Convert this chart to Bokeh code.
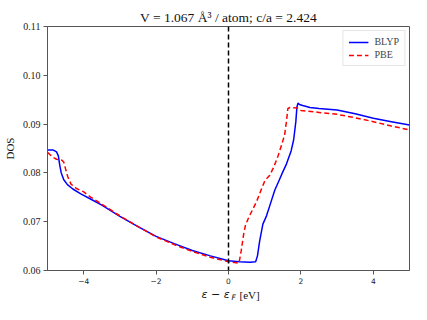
from bokeh.plotting import figure
from bokeh.models import Range1d, FixedTicker, Span, Label, Legend, LegendItem
from bokeh.layouts import column
from bokeh.embed import file_html
from bokeh.resources import INLINE

# ---- data ----
blyp_e = [-5.0, -4.85, -4.75, -4.70, -4.66, -4.62, -4.55, -4.45, -4.3, -4.08, -3.8, -3.5,
          -3.0, -2.5, -2.0, -1.5, -1.0, -0.5, 0.0, 0.3, 0.6, 0.75, 0.80, 0.86, 0.95, 1.05,
          1.15, 1.28, 1.40, 1.50, 1.60, 1.73, 1.80, 1.86, 1.89, 1.92, 1.96, 2.05, 2.25,
          2.5, 3.0, 3.5, 4.0, 4.5, 5.0]
blyp_dos = [0.0847, 0.0847, 0.0843, 0.0835, 0.0815, 0.0800, 0.0786, 0.0776, 0.0767, 0.0757,
            0.0746, 0.0734, 0.0711, 0.0690, 0.0670, 0.0655, 0.0641, 0.0630, 0.0620, 0.0618,
            0.0617, 0.0618, 0.0630, 0.0660, 0.0695, 0.0712, 0.0735, 0.0765, 0.0785, 0.0802,
            0.0818, 0.0845, 0.0868, 0.0905, 0.0935, 0.0943, 0.0940, 0.0938, 0.0934, 0.0932,
            0.0929, 0.0921, 0.0912, 0.0905, 0.0898]

pbe_e = [-5.0, -4.85, -4.75, -4.6, -4.55, -4.50, -4.44, -4.35, -4.2, -4.0, -3.8, -3.5,
         -3.0, -2.5, -2.0, -1.5, -1.0, -0.5, 0.0, 0.29, 0.35, 0.42, 0.47, 0.56, 0.7, 0.78,
         0.9, 1.01, 1.14, 1.25, 1.37, 1.47, 1.55, 1.60, 1.64, 1.70, 1.9, 2.0, 2.5, 3.0,
         3.5, 4.0, 4.5, 5.0]
pbe_dos = [0.0842, 0.0832, 0.0828, 0.0826, 0.0822, 0.0808, 0.0792, 0.0777, 0.0768, 0.0761,
           0.0750, 0.0736, 0.0712, 0.0690, 0.0669, 0.0653, 0.0639, 0.0627, 0.0618, 0.0615,
           0.0640, 0.0675, 0.0693, 0.0709, 0.0730, 0.0742, 0.0765, 0.0785, 0.0795, 0.0812,
           0.0835, 0.0858, 0.0878, 0.0905, 0.0932, 0.0934, 0.0933, 0.0928, 0.0924, 0.0920,
           0.0913, 0.0905, 0.0896, 0.0888]

x_ticks = [-4, -2, 0, 2, 4]
x_tick_labels = ["\u22124", "\u22122", "0", "2", "4"]
y_ticks = [0.06, 0.07, 0.08, 0.09, 0.10, 0.11]
y_tick_labels = ["0.06", "0.07", "0.08", "0.09", "0.10", "0.11"]

title_text = "V = 1.067 \u00c5\u00b3 / atom; c/a = 2.424"
serif = "Liberation Serif"

W = 411
p = figure(width=W, height=286, output_backend="svg", toolbar_location=None,
           x_range=Range1d(-5, 5), y_range=Range1d(0.06, 0.11),
           min_border_left=45, min_border_right=2, min_border_top=26, min_border_bottom=16)
p.grid.visible = False
p.background_fill_color = "white"
p.border_fill_color = "white"
p.outline_line_color = "#555555"
p.outline_line_width = 1

p.title.text = title_text
p.title.align = "center"
p.title.text_font = serif
p.title.text_font_size = "13.5px"
p.title.text_font_style = "normal"
p.title.text_color = "#111111"
p.title.standoff = 4
p.title.offset = 0

for ax in (p.xaxis[0], p.yaxis[0]):
    ax.axis_line_color = "#555555"
    ax.major_tick_line_color = "#555555"
    ax.major_tick_out = 4
    ax.major_tick_in = 0
    ax.minor_tick_line_color = None

p.xaxis.axis_label = None
p.xaxis.ticker = FixedTicker(ticks=x_ticks)
p.xaxis.major_label_overrides = dict(zip(x_ticks, x_tick_labels))
p.xaxis.major_label_text_font = "DejaVu Sans"
p.xaxis.major_label_text_font_size = "7.5px"
p.xaxis.major_label_standoff = 3
p.xaxis.major_label_text_color = "#222222"

p.yaxis.axis_label = "DOS"
p.yaxis.axis_label_text_font = serif
p.yaxis.axis_label_text_font_size = "11px"
p.yaxis.axis_label_text_font_style = "normal"
p.yaxis.axis_label_text_color = "#111111"
p.yaxis.axis_label_standoff = 4
p.yaxis.ticker = FixedTicker(ticks=y_ticks)
p.yaxis.major_label_overrides = dict(zip(y_ticks, y_tick_labels))
p.yaxis.major_label_text_font = serif
p.yaxis.major_label_text_font_size = "10px"
p.yaxis.major_label_standoff = 3
p.yaxis.major_label_text_color = "#222222"

p.add_layout(Span(location=0, dimension="height", line_color="black",
                  line_dash="5 3", line_width=1.5))

r1 = p.line(blyp_e, blyp_dos, line_color="#0000ff", line_width=1.5)
r2 = p.line(pbe_e, pbe_dos, line_color="#ff0000", line_width=1.5, line_dash="5 3")

legend = Legend(items=[LegendItem(label="BLYP", renderers=[r1]),
                       LegendItem(label="PBE", renderers=[r2])],
                location="top_right")
legend.label_text_font = serif
legend.label_text_font_size = "10px"
legend.glyph_width = 20
legend.glyph_height = 10
legend.label_height = 10
legend.spacing = 2
legend.padding = 5
legend.margin = 4
legend.label_standoff = 6
legend.border_line_color = "#cccccc"
legend.background_fill_alpha = 0.8
p.add_layout(legend)

# strip below the plot that carries the x-axis label (with subscript F)
q = figure(width=W, height=18, output_backend="svg", toolbar_location=None,
           x_range=p.x_range, y_range=Range1d(0, 1), x_axis_type=None, y_axis_type=None,
           min_border_left=45, min_border_right=2, min_border_top=0, min_border_bottom=0)
q.grid.visible = False
q.outline_line_color = None
q.background_fill_color = "white"
q.border_fill_color = "white"

x0 = 154
q.add_layout(Label(x=x0, y=10, x_units="screen", y_units="screen", text="\u03b5 \u2212 \u03b5",
                   text_align="left", text_baseline="middle", text_font="DejaVu Sans",
                   text_font_style="italic", text_font_size="11px", text_color="#111111"))
q.add_layout(Label(x=x0 + 30, y=7, x_units="screen", y_units="screen", text="F",
                   text_align="left", text_baseline="middle", text_font="DejaVu Sans",
                   text_font_style="italic", text_font_size="7.5px", text_color="#111111"))
q.add_layout(Label(x=x0 + 38, y=10, x_units="screen", y_units="screen", text="[eV]",
                   text_align="left", text_baseline="middle", text_font=serif,
                   text_font_size="11px", text_color="#111111"))

layout = column(p, q, spacing=0)
open("out.html", "w").write(file_html(layout, INLINE))
